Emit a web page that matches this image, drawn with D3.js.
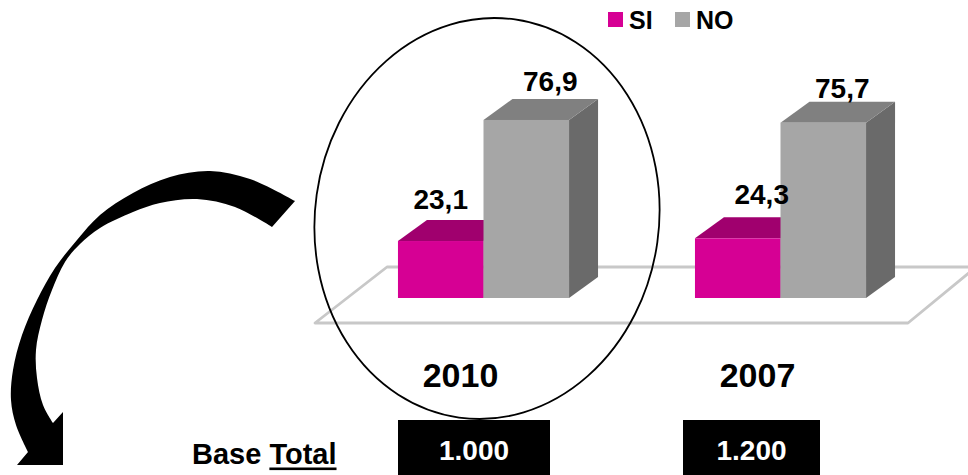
<!DOCTYPE html>
<html>
<head>
<meta charset="utf-8">
<script src="https://cdn.jsdelivr.net/npm/d3@7/dist/d3.min.js"></script>
<style>
  html, body { margin: 0; padding: 0; background: #ffffff; }
  svg { display: block; }
  text { font-family: "Liberation Sans", Arial, sans-serif; font-weight: bold; }
</style>
</head>
<body>
<svg id="chart" width="968" height="475"></svg>
<script>
// ---- data ----
const categories = ["2010", "2007"];
const seriesNames = ["SI", "NO"];
const siValues = [23.1, 24.3];
const noValues = [76.9, 75.7];
const valueLabels = [["23,1", "76,9"], ["24,3", "75,7"]];
const baseLabels = ["1.000", "1.200"];
const baseTitle = "Base";
const baseTitleU = "Total";

// ---- styles / manual label placement (as in the original, hand-nudged) ----
const labelDx = [[0, 24], [24, 19]];
const labelLift = [[32, 29], [34, 25]];
const frontColor = { SI: "#d60094", NO: "#a6a6a6" };
const topColor = { SI: "#a0006e", NO: "#808080" };
const sideColor = { SI: "#8a005e", NO: "#6a6a6a" };
const floorColor = "#c8c8c8";

const svg = d3.select("#chart");

// scales
const x0 = d3.scaleBand().domain(categories).range([335, 929])
  .paddingInner(0.424).paddingOuter(0.212);
const x1 = d3.scaleBand().domain(seriesNames).range([0, x0.bandwidth()]);
const y = d3.scaleLinear().domain([0, 100]).range([293, 68]);
const baseY = 298;         // front edge of bar bottoms (floor level)
const dx = 29, dy = 21;    // bar depth projection

// ---- floor (3D plane) ----
const floorFrontY = 323, floorBackY = 267;
const floorPts = [[315, floorFrontY], [387, floorBackY], [976, floorBackY], [908, floorFrontY]];
svg.append("polygon")
  .attr("points", floorPts.map(p => p.join(",")).join(" "))
  .attr("fill", "none")
  .attr("stroke", floorColor)
  .attr("stroke-width", 2.8)
  .attr("stroke-linejoin", "round");

// ---- bars ----
const rows = categories.map((c, i) => ({
  cat: c, i,
  vals: [{ s: "SI", j: 0, v: siValues[i], lab: valueLabels[i][0] },
         { s: "NO", j: 1, v: noValues[i], lab: valueLabels[i][1] }]
}));

const bw = x1.bandwidth();
rows.forEach(r => {
  r.vals.forEach(d => {
    const x = x0(r.cat) + x1(d.s);
    const top = y(d.v);
    const g = svg.append("g");
    g.append("polygon")
      .attr("points", [[x + bw, top], [x + bw + dx, top - dy], [x + bw + dx, baseY - dy], [x + bw, baseY]]
        .map(p => p.join(",")).join(" "))
      .attr("fill", sideColor[d.s]);
    g.append("polygon")
      .attr("points", [[x, top], [x + dx, top - dy], [x + bw + dx, top - dy], [x + bw, top]]
        .map(p => p.join(",")).join(" "))
      .attr("fill", topColor[d.s]);
    g.append("rect")
      .attr("x", x).attr("y", top)
      .attr("width", bw).attr("height", baseY - top)
      .attr("fill", frontColor[d.s]);
  });
});

// value labels
rows.forEach(r => {
  r.vals.forEach(d => {
    const x = x0(r.cat) + x1(d.s);
    svg.append("text")
      .attr("x", x + bw / 2 + labelDx[r.i][d.j])
      .attr("y", y(d.v) - labelLift[r.i][d.j])
      .attr("text-anchor", "middle")
      .attr("font-size", 28)
      .attr("fill", "#000")
      .text(d.lab);
  });
});

// category labels
categories.forEach(c => {
  svg.append("text")
    .attr("x", x0(c) + x0.bandwidth() / 2 - 23)
    .attr("y", 387)
    .attr("text-anchor", "middle")
    .attr("font-size", 34)
    .attr("fill", "#000")
    .text(c);
});

// ---- legend ----
const legend = [{ s: "SI", x: 608 }, { s: "NO", x: 675 }];
legend.forEach(l => {
  svg.append("rect").attr("x", l.x).attr("y", 12).attr("width", 15).attr("height", 15)
    .attr("fill", frontColor[l.s]);
  svg.append("text").attr("x", l.x + 21).attr("y", 29)
    .attr("font-size", 25).attr("fill", "#000").text(l.s);
});

// ---- ellipse highlight ----
svg.append("ellipse")
  .attr("cx", 0).attr("cy", 0).attr("rx", 172).attr("ry", 201)
  .attr("transform", "translate(487,218.5) rotate(8)")
  .attr("fill", "none").attr("stroke", "#000").attr("stroke-width", 1.8);

// ---- curved arrow ----
const outer = [[295, 201], [250, 179], [210, 171], [170, 177], [133, 193], [100, 215], [77, 240],
  [55, 268], [37, 300], [22, 335], [13, 370], [11, 400], [16, 425], [28, 452]];
const inner = [[272, 227], [235, 207], [197, 199], [160, 203], [133, 212], [100, 228], [80, 244],
  [65, 262], [52, 290], [42, 320], [36, 350], [37, 378], [43, 405], [53, 423]];
const curve = d3.line().curve(d3.curveCatmullRom.alpha(0.5));
const head = [[17, 465], [63, 465], [63, 412]];
let dArrow = curve(outer);
dArrow += head.map(p => "L" + p.join(",")).join("");
dArrow += curve(inner.slice().reverse()).replace(/^M/, "L");
dArrow += "Z";
svg.append("path").attr("d", dArrow).attr("fill", "#000");

// ---- Base Total row ----
const bt = svg.append("text").attr("x", 192).attr("y", 464)
  .attr("font-size", 29).attr("fill", "#000");
bt.append("tspan").text(baseTitle + " ");
const tTotal = bt.append("tspan").text(baseTitleU);
const fullLen = bt.node().getComputedTextLength();
const totLen = tTotal.node().getComputedTextLength();
svg.append("rect")
  .attr("x", 192 + fullLen - totLen).attr("y", 467.5)
  .attr("width", totLen).attr("height", 2.6).attr("fill", "#000");

const boxes = [{ x: 398, w: 152 }, { x: 683, w: 137 }];
baseLabels.forEach((b, i) => {
  svg.append("rect").attr("x", boxes[i].x).attr("y", 420)
    .attr("width", boxes[i].w).attr("height", 60).attr("fill", "#000");
  svg.append("text").attr("x", boxes[i].x + boxes[i].w / 2).attr("y", 460)
    .attr("text-anchor", "middle").attr("font-size", 28).attr("fill", "#fff").text(b);
});
</script>
</body>
</html>
